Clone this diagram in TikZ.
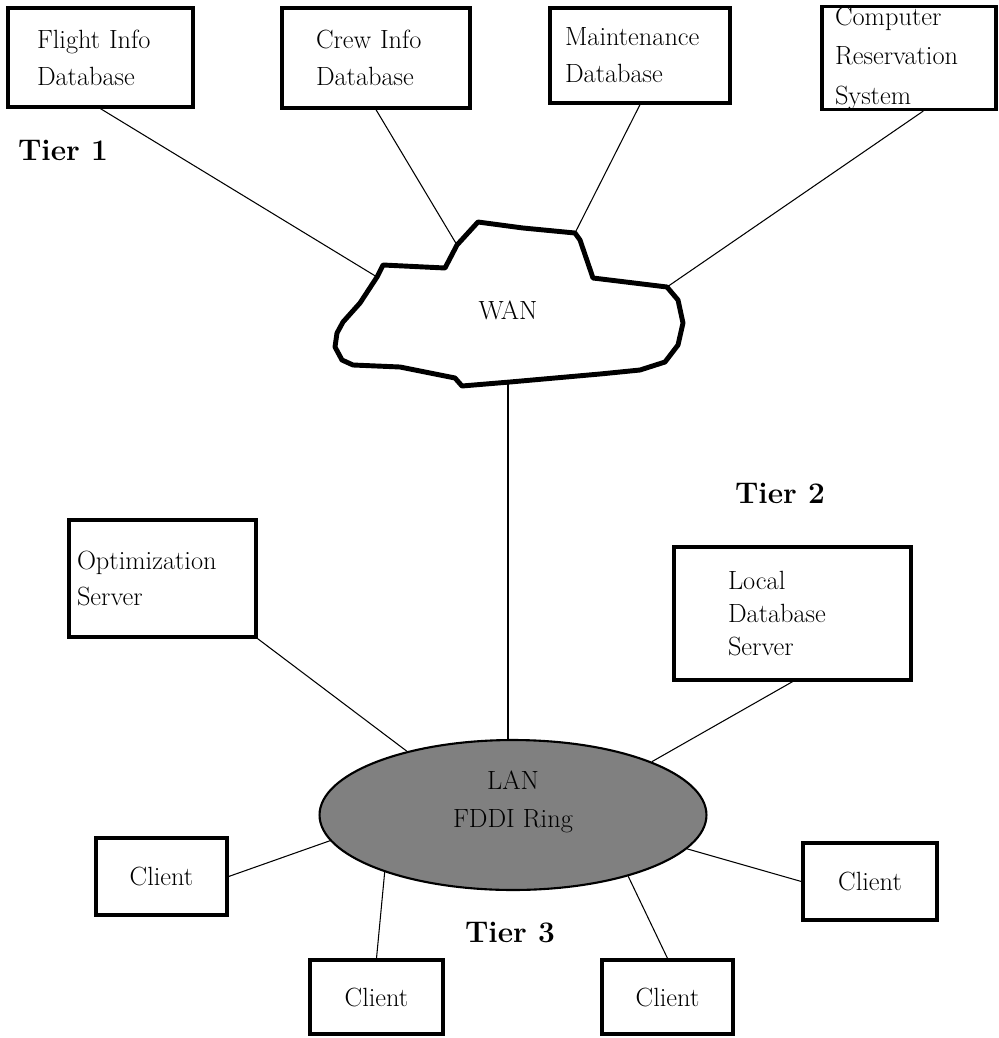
\documentclass[tikz,border=0pt]{standalone}
\usepackage{tikz}
\usetikzlibrary{shapes.geometric}
\tikzstyle{dbbox}=[rectangle, draw=black, line width=1.9pt, align=left, inner sep=0pt, font=\fontsize{15}{21}\selectfont]
\tikzstyle{client}=[rectangle, draw=black, line width=1.9pt, inner sep=0pt, font=\fontsize{15}{21}\selectfont]
\tikzstyle{tier}=[font=\fontsize{17}{20}\selectfont\bfseries]
\tikzstyle{link}=[-, draw=black, line width=0.6pt]
\tikzstyle{cloud}=[draw=black, line width=2.8pt, line join=round]
\tikzstyle{lan}=[ellipse, draw=black, line width=1.2pt, fill=black!50, inner sep=0pt, minimum width=7.74cm, minimum height=3cm]
\pgfdeclarelayer{edgelayer}
\pgfdeclarelayer{nodelayer}
\pgfsetlayers{edgelayer,nodelayer,main}

\begin{document}
\begin{tikzpicture}[x=0.02cm, y=-0.02cm]
    \useasboundingbox (0, 0) rectangle (999, 1038);
    \begin{pgfonlayer}{nodelayer}
        % tier 1
        \node [style=dbbox, minimum width=3.7cm, minimum height=1.98cm, text width=2.54cm] (flight) at (100.5, 57.5) {Flight Info\\Database};
        \node [style=dbbox, minimum width=3.76cm, minimum height=2cm, text width=2.4cm] (crew) at (376, 58) {Crew Info\\Database};
        \node [style=dbbox, minimum width=3.6cm, minimum height=1.9cm, text width=3cm] (maint) at (640, 55.5) {Maintenance\\Database};
        \node [style=dbbox, minimum width=3.48cm, minimum height=2cm, text width=2.96cm, font=\fontsize{15}{22.5}\selectfont] (crs) at (909, 58) {Computer\\Reservation\\System};
        \node [style=tier] (tier1) at (63, 150) {Tier 1};

        % WAN cloud
        \draw [style=cloud] (383, 265) -- (445, 268) -- (457, 245) -- (478, 222) -- (523, 228) -- (575, 233) -- (580, 240)
            -- (593, 278) -- (667, 287) -- (678, 300) -- (683, 323) -- (678, 345) -- (665, 362) -- (640, 370)
            -- (600, 374) -- (510, 382) -- (462, 386) -- (455, 378) -- (400, 367) -- (353, 365) -- (342, 360)
            -- (335, 347) -- (337, 333) -- (343, 322) -- (360, 303) -- (377, 277) -- cycle;
        \node [font=\fontsize{15}{18}\selectfont] (wan) at (508, 310) {WAN};
        \coordinate (wanA) at (377, 277);
        \coordinate (wanB) at (457, 245);
        \coordinate (wanC) at (575, 233);
        \coordinate (wanD) at (667, 287);
        \coordinate (wanE) at (508, 382);

        % tier 2
        \node [style=tier] (tier2) at (780, 493) {Tier 2};
        \node [style=dbbox, minimum width=3.74cm, minimum height=2.34cm, text width=3.42cm] (opt) at (162.5, 578.5) {Optimization\\Server};
        \node [style=dbbox, minimum width=4.74cm, minimum height=2.66cm, text width=2.58cm, font=\fontsize{15}{19}\selectfont] (local) at (792.5, 613.5) {Local\\Database\\Server};
        \node [style=lan] (lan) at (513, 815) {};
        \node [align=center, font=\fontsize{15}{22}\selectfont] (lantext) at (513, 802) {LAN\\FDDI Ring};

        % tier 3
        \node [style=tier] (tier3) at (510, 933) {Tier 3};
        \node [style=client, minimum width=2.62cm, minimum height=1.54cm] (cl) at (161.5, 876.5) {Client};
        \node [style=client, minimum width=2.68cm, minimum height=1.54cm] (cr) at (870, 881.5) {Client};
        \node [style=client, minimum width=2.66cm, minimum height=1.48cm] (cbl) at (376.5, 997) {Client};
        \node [style=client, minimum width=2.62cm, minimum height=1.48cm] (cbr) at (667.5, 997) {Client};
    \end{pgfonlayer}
    \begin{pgfonlayer}{edgelayer}
        \draw [style=link] (flight.south) to (wanA);
        \draw [style=link] (crew.south) to (wanB);
        \draw [style=link] (maint.south) to (wanC);
        \draw [style=link] (crs.-75) to (wanD);
        \draw [style=link] (wanE) to (wanE |- lan.north);

        \draw [style=link] (opt.south east) to (lan.149);
        \draw [style=link] (local.south) to (lan.21);
        \draw [style=link] (cl.east) to (lan.188);
        \draw [style=link] (cr.west) to (lan.-11);
        \draw [style=link] (cbl.north) to (lan.204);
        \draw [style=link] (cbr.north) to (lan.-28);
    \end{pgfonlayer}
\end{tikzpicture}
\end{document}
